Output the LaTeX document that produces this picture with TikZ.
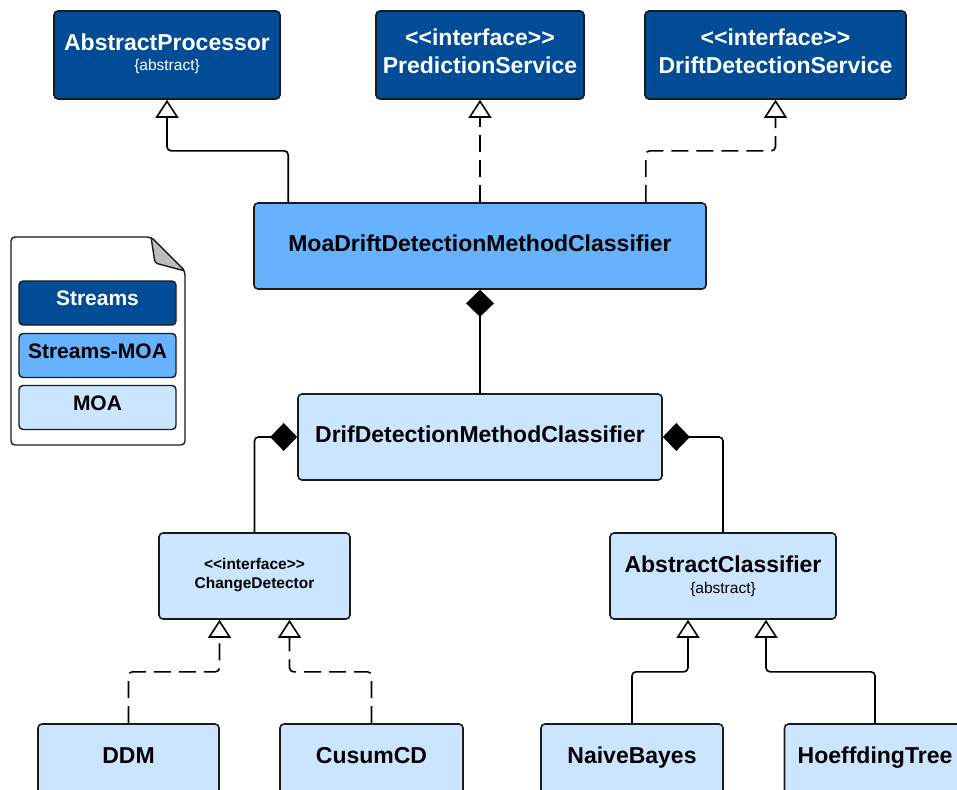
\documentclass[tikz,border=0pt]{standalone}
\usepackage{fontspec}
\setmainfont{Liberation Sans}
\usetikzlibrary{arrows.meta,calc}

\definecolor{streams}{HTML}{004C97}
\definecolor{streamsmoa}{HTML}{66B2FF}
\definecolor{moa}{HTML}{CCE5FF}
\definecolor{edge}{HTML}{1A1A1A}
\definecolor{fold}{HTML}{BDBDBD}

\newcommand{\stereo}[1]{{<}{<}#1{>}{>}}

\tikzset{
  cls/.style={draw=edge, line width=1.6pt, rounded corners=4pt, inner sep=0pt},
  darkcls/.style={cls, fill=streams},
  midcls/.style={cls, fill=streamsmoa},
  lightcls/.style={cls, fill=moa},
  big/.style={font=\bfseries\fontsize{23}{23}\selectfont, anchor=base, inner sep=0pt},
  small/.style={font=\fontsize{15.5}{15.5}\selectfont, anchor=base, inner sep=0pt},
  smallbold/.style={font=\bfseries\fontsize{15.5}{15.5}\selectfont, anchor=base, inner sep=0pt},
  legendtxt/.style={font=\bfseries\fontsize{21}{21}\selectfont, anchor=base, inner sep=0pt},
  link/.style={line width=1.6pt, rounded corners=4pt, black},
  generalize/.style={link, -{Triangle[fill=white, length=18pt, width=23pt]}},
  realize/.style={generalize, dash pattern=on 17pt off 8pt},
  compose/.style={link, -{Diamond[length=27pt, width=28pt]}},
}

\begin{document}
\begin{tikzpicture}[x=1pt, y=-1pt]
\useasboundingbox (0,0) rectangle (957,789);
\clip (0,0) rectangle (957,789);

% Streams classes
\node[darkcls, minimum width=226pt, minimum height=88pt] (ap) at (167,55) {};
\node[big, text=white] (apT) at (167,51) {AbstractProcessor};
\node[small, text=white] (apS) at (167,71) {\{abstract\}};

\node[darkcls, minimum width=208pt, minimum height=88pt] (ps) at (480,55) {};
\node[big, text=white] (psS) at (480,46) {\stereo{interface}};
\node[big, text=white] (psT) at (480,74) {PredictionService};

\node[darkcls, minimum width=261pt, minimum height=88pt] (dds) at (775.5,55) {};
\node[big, text=white] (ddsS) at (775.5,46) {\stereo{interface}};
\node[big, text=white] (ddsT) at (775.5,74) {DriftDetectionService};

% Streams-MOA bridge class
\node[midcls, minimum width=452pt, minimum height=86pt] (moa) at (480,246) {};
\node[big] (moaT) at (480,251) {MoaDriftDetectionMethodClassifier};

% MOA classes
\node[lightcls, minimum width=364pt, minimum height=86pt] (drif) at (480,437) {};
\node[big] (drifT) at (480,442) {DrifDetectionMethodClassifier};

\node[lightcls, minimum width=191pt, minimum height=86pt] (cd) at (254.5,576) {};
\node[smallbold] (cdS) at (254.5,569) {\stereo{interface}};
\node[smallbold] (cdT) at (254.5,588) {ChangeDetector};

\node[lightcls, minimum width=226pt, minimum height=86pt] (ac) at (723,576) {};
\node[big] (acT) at (723,572) {AbstractClassifier};
\node[small] (acS) at (723,593) {\{abstract\}};

\node[lightcls, minimum width=181pt, minimum height=86pt] (ddm) at (128.5,767) {};
\node[big] (ddmT) at (128.5,763) {DDM};

\node[lightcls, minimum width=183pt, minimum height=86pt] (cus) at (371.5,767) {};
\node[big] (cusT) at (371.5,763) {CusumCD};

\node[lightcls, minimum width=182pt, minimum height=86pt] (nb) at (632,767) {};
\node[big] (nbT) at (632,763) {NaiveBayes};

\node[lightcls, minimum width=181pt, minimum height=86pt] (ht) at (875,767) {};
\node[big] (htT) at (875,763) {HoeffdingTree};

% Inheritance and realization
\draw[generalize] ($(moa.north west)+(35,0)$) |- ($(ap.south)+(0,51)$) -- (ap.south);
\draw[realize] (moa.north) -- (ps.south);
\draw[realize] ($(moa.north east)+(-61,0)$) |- ($(dds.south)+(0,51)$) -- (dds.south);

\draw[realize] (ddm.north) |- ($(cd.south)+(-35,52)$) -- ($(cd.south)+(-35,0)$);
\draw[realize] (cus.north) |- ($(cd.south)+(35,52)$) -- ($(cd.south)+(35,0)$);
\draw[generalize] (nb.north) |- ($(ac.south)+(-35,52)$) -- ($(ac.south)+(-35,0)$);
\draw[generalize] (ht.north) |- ($(ac.south)+(43,52)$) -- ($(ac.south)+(43,0)$);

% Composition
\draw[compose] (drif.north) -- (moa.south);
\draw[compose] (cd.north) |- (drif.west);
\draw[compose] (ac.north) |- (drif.east);

% Legend sheet
\draw[line width=1.4pt, draw=edge, fill=white, rounded corners=4pt]
  (11,237) -- (151,237) -- (185,271) -- (185,445) -- (11,445) -- cycle;
\draw[line width=1.4pt, draw=edge, fill=fold, rounded corners=3pt]
  (151,237) -- (155,263) -- (185,271) -- cycle;
\node[darkcls, line width=1.4pt, minimum width=157pt, minimum height=44pt] (lgS) at (97.5,303) {};
\node[legendtxt, text=white] (lgST) at (97.5,305) {Streams};
\node[midcls, line width=1.4pt, minimum width=157pt, minimum height=44pt] (lgSM) at (97.5,355.5) {};
\node[legendtxt] (lgSMT) at (97.5,358) {Streams-MOA};
\node[lightcls, line width=1.4pt, minimum width=157pt, minimum height=44pt] (lgM) at (97.5,407.5) {};
\node[legendtxt] (lgMT) at (97.5,410) {MOA};
\end{tikzpicture}
\end{document}
